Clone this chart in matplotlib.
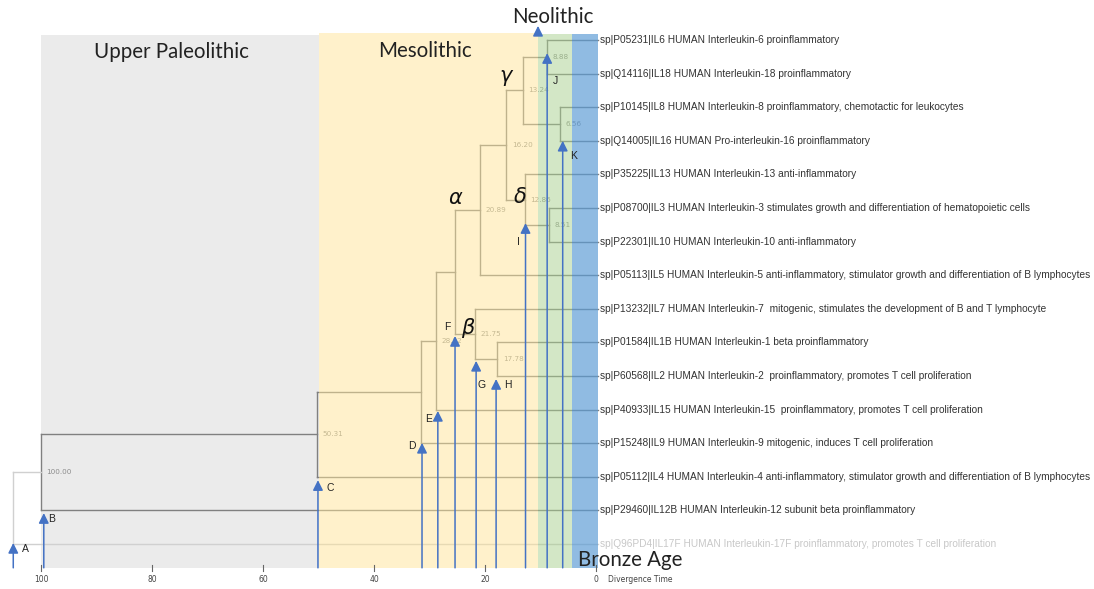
import matplotlib.pyplot as plt

# leaf labels, top to bottom
leaf_ids = ['sp|P05231|IL6 HUMAN Interleukin-6', 'sp|Q14116|IL18 HUMAN Interleukin-18',
            'sp|P10145|IL8 HUMAN Interleukin-8', 'sp|Q14005|IL16 HUMAN Pro-interleukin-16',
            'sp|P35225|IL13 HUMAN Interleukin-13', 'sp|P08700|IL3 HUMAN Interleukin-3',
            'sp|P22301|IL10 HUMAN Interleukin-10', 'sp|P05113|IL5 HUMAN Interleukin-5',
            'sp|P13232|IL7 HUMAN Interleukin-7 ', 'sp|P01584|IL1B HUMAN Interleukin-1 beta',
            'sp|P60568|IL2 HUMAN Interleukin-2 ', 'sp|P40933|IL15 HUMAN Interleukin-15 ',
            'sp|P15248|IL9 HUMAN Interleukin-9', 'sp|P05112|IL4 HUMAN Interleukin-4',
            'sp|P29460|IL12B HUMAN Interleukin-12 subunit beta', 'sp|Q96PD4|IL17F HUMAN Interleukin-17F']
leaf_roles = ['proinflammatory', 'proinflammatory', 'proinflammatory, chemotactic for leukocytes',
              'proinflammatory', 'anti-inflammatory',
              'stimulates growth and differentiation of hematopoietic cells', 'anti-inflammatory',
              'anti-inflammatory, stimulator growth and differentiation of B lymphocytes',
              'mitogenic, stimulates the development of B and T lymphocyte', 'proinflammatory',
              'proinflammatory, promotes T cell proliferation',
              'proinflammatory, promotes T cell proliferation', 'mitogenic, induces T cell proliferation',
              'anti-inflammatory, stimulator growth and differentiation of B lymphocytes',
              'proinflammatory', 'proinflammatory, promotes T cell proliferation']

# internal nodes: name -> (divergence time, child a, child b, label shown)
nodes = {
    'J': (8.88, 0, 1, True),
    'K': (6.56, 2, 3, True),
    'g': (13.24, 'J', 'K', True),
    'i': (8.51, 5, 6, True),
    'd': (12.86, 4, 'i', True),
    'n16': (16.20, 'g', 'd', True),
    'a': (20.89, 'n16', 7, True),
    'h': (17.78, 9, 10, True),
    'b': (21.75, 8, 'h', True),
    'F': (25.40, 'a', 'b', False),
    'E': (28.92, 'F', 11, True),
    'D': (31.60, 'E', 12, False),
    'C': (50.31, 'D', 13, True),
    'B': (100.00, 'C', 14, True),
    'root': (105.0, 'B', 15, False),
}

# eras (start, end of band in ka)
era_names = ['Upper Paleolithic', 'Mesolithic', 'Neolithic', 'Bronze Age']
era_start = [100, 50, 10.45, 4.3]
era_end = [50, 10.45, 4.3, -0.4]

# event arrows: label, time, tip (leaf row units)
arrow_names = ['A', 'B', 'C', 'D', 'E', 'F', 'G', 'H', 'I', 'J', 'K']
arrow_time = [105.0, 99.5, 50.1, 31.35, 28.5, 25.4, 21.6, 18.0, 12.7, 8.8, 6.0]
arrow_tip = [14.97, 14.08, 13.1, 11.99, 11.04, 8.81, 9.55, 10.09, 5.45, 0.39, 3.0]
arrow_lab_off = [(8.6, -4.3), (5.8, -4.3), (8.6, -5.8), (-7.2, -2.2), (-7, -5.8), (-5.8, 6.5),
                 (3.6, -17.3), (8.6, -4.3), (-5, -13.7), (5.8, -20), (8, -10.8)]

ticks = [100, 80, 60, 40, 20, 0]

fig = plt.figure(figsize=(10.94, 5.89), dpi=100)
ax = fig.add_axes([0, 0, 1, 1])
ax.set_xlim(107.39, -89.73)
ax.set_ylim(16.34, -1.19)
ax.axis('off')

band_top, band_bot = -0.15, 15.71
line_col = '#808080'
light_col = '#d0d0d0'

# gray band under the tree, others overlay it
ax.fill_between([era_start[0], era_end[0]], band_top, band_bot, color='#ebebeb', lw=0, zorder=0)
ax.fill_between([era_start[1], era_end[1]], band_top - 0.05, band_bot, color='#ffe599', alpha=0.5, lw=0, zorder=3)
ax.fill_between([era_start[2], era_end[2]], band_top - 0.03, band_bot, color='#a9d18e', alpha=0.5, lw=0, zorder=3)
ax.fill_between([era_start[3], era_end[3]], band_top - 0.03, band_bot, color='#5b9bd5', alpha=0.68, lw=0, zorder=3)

pos = {}


def place(n):
    if isinstance(n, int):
        return 0.0, float(n)
    if n in pos:
        return pos[n]
    t, a, b, show = nodes[n]
    ta, ya = place(a)
    tb, yb = place(b)
    col = light_col if n == 'root' else line_col
    ax.plot([t, t], [ya, yb], color=col, lw=1, zorder=2)
    for c, tc, yc in [(a, ta, ya), (b, tb, yb)]:
        end = -0.3 if isinstance(c, int) else tc
        ax.plot([t, end], [yc, yc], color=col, lw=1, zorder=2)
    ym = (ya + yb) / 2
    if show:
        ax.text(t - 1.0, ym, '%.2f' % t, fontsize=5.2, color='#8c8c8c', va='center', ha='left', zorder=2)
    pos[n] = (t, ym)
    return pos[n]


place('root')

# leaf labels
for i, (lid, role) in enumerate(zip(leaf_ids, leaf_roles)):
    col = '#c8c8c8' if i == 15 else '#333333'
    ax.text(-0.7, i, lid + ' ' + role, fontsize=7.3, family='Liberation Sans',
            color=col, va='center', ha='left', zorder=5)

# event arrows
for name, t, tip, off in zip(arrow_names, arrow_time, arrow_tip, arrow_lab_off):
    ax.annotate('', xy=(t, tip), xytext=(t, band_bot), zorder=6,
                arrowprops=dict(arrowstyle='-|>,head_length=0.6,head_width=0.3',
                                color='#4472c4', lw=1.1, shrinkA=0, shrinkB=0))
    ax.annotate(name, xy=(t, tip), xytext=off, textcoords='offset points',
                fontsize=7.5, family='Liberation Sans', color='#222222',
                ha='center', va='center', zorder=6)

ax.annotate('', xy=(era_start[2], -0.42), xytext=(era_start[2], band_top), zorder=6,
            arrowprops=dict(arrowstyle='-|>,head_length=0.6,head_width=0.3',
                            color='#4472c4', lw=1.1, shrinkA=0, shrinkB=0))

# era names
era_pos = [(76.4, 0.35), (30.8, 0.33), (7.75, -0.68), (-6.1, 15.48)]
for name, (x, y) in zip(era_names, era_pos):
    ax.text(x, y, name, fontsize=14.8, family='Lato', color='#222222',
            ha='center', va='center', zorder=7)

# greek clade marks
greek = ['α', 'β', 'γ', 'δ']
greek_pos = [(25.4, 4.70), (23.1, 8.57), (16.2, 1.07), (13.7, 4.67)]
for g, (x, y) in zip(greek, greek_pos):
    ax.text(x, y, g, fontsize=15, style='italic', family='DejaVu Sans', color='#111111',
            ha='center', va='center', zorder=7)

# time axis
for tk in ticks:
    ax.plot([tk, tk], [15.62, 15.8], color='#666666', lw=0.8, zorder=6)
    ax.text(tk, 16.07, str(tk), fontsize=5.5, color='#444444', ha='center', va='center')
ax.text(-2.2, 16.07, 'Divergence Time', fontsize=5.5, color='#444444', ha='left', va='center')

fig.savefig('out.png', dpi=100)
